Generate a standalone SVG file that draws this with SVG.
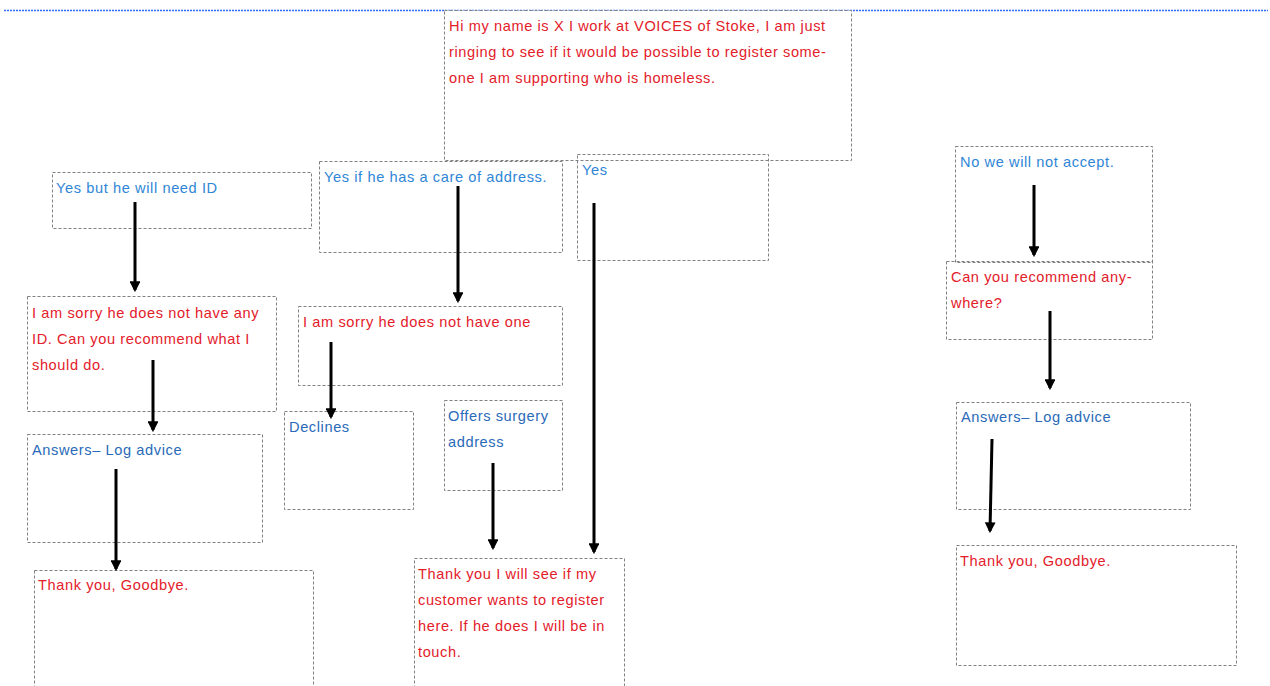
<svg xmlns="http://www.w3.org/2000/svg" width="1270" height="686" viewBox="0 0 1270 686">
<defs>
<style>
.box{fill:none;stroke:#808080;stroke-width:1;stroke-dasharray:3 2}
.t{font-family:"Liberation Sans",Arial,sans-serif;font-size:14.6px;letter-spacing:0.6px}
.r{fill:#e3202a}
.b{fill:#2f86d6}
.d{fill:#2a6ab8}
.c{stroke:#000;stroke-width:3;fill:none;marker-end:url(#ah)}
</style>
<marker id="ah" viewBox="0 0 10 10" refX="8" refY="5" markerWidth="3.6" markerHeight="3.6" orient="auto" markerUnits="strokeWidth">
<path d="M0,0 L10,5 L0,10 z" fill="#000"/>
</marker>
</defs>
<rect width="1270" height="686" fill="#fff"/>
<line x1="4" y1="10.5" x2="1268" y2="10.5" stroke="#2f6cff" stroke-width="1.5" stroke-dasharray="2 1"/>

<g id="n-intro"><rect x="444.5" y="10.5" width="407" height="150" fill="#fff"/><rect class="box" x="444.5" y="10.5" width="407" height="150"/>
<text class="t r" x="449" y="31">Hi my name is X I work at VOICES of Stoke, I am just</text>
<text class="t r" x="449" y="57">ringing to see if it would be possible to register some-</text>
<text class="t r" x="449" y="83">one I am supporting who is homeless.</text></g>

<g id="n-yes-id"><rect class="box" x="52.5" y="172.5" width="259" height="56"/>
<text class="t b" x="56" y="193">Yes but he will need ID</text></g>

<g id="n-sorry-id"><rect class="box" x="27.5" y="296.5" width="249" height="115"/>
<text class="t r" x="32" y="318">I am sorry he does not have any</text>
<text class="t r" x="32" y="344">ID. Can you recommend what I</text>
<text class="t r" x="32" y="370">should do.</text></g>

<g id="n-answers-left"><rect class="box" x="27.5" y="434.5" width="235" height="108"/>
<text class="t d" x="32" y="455">Answers– Log advice</text></g>

<g id="n-bye-left"><rect class="box" x="34.5" y="570.5" width="279" height="130"/>
<text class="t r" x="38" y="590">Thank you, Goodbye.</text></g>

<g id="n-yes-care"><rect class="box" x="319.5" y="161.5" width="243" height="91"/>
<text class="t b" x="324" y="182">Yes if he has a care of address.</text></g>

<g id="n-sorry-one"><rect class="box" x="298.5" y="306.5" width="264" height="79"/>
<text class="t r" x="303" y="327">I am sorry he does not have one</text></g>

<g id="n-declines"><rect class="box" x="284.5" y="411.5" width="129" height="98"/>
<text class="t d" x="289" y="432">Declines</text></g>

<g id="n-offers"><rect class="box" x="444.5" y="400.5" width="118" height="90"/>
<text class="t d" x="448" y="421">Offers  surgery</text>
<text class="t d" x="448" y="447">address</text></g>

<g id="n-yes"><rect class="box" x="577.5" y="154.5" width="191" height="106"/>
<text class="t b" x="582" y="175">Yes</text></g>

<g id="n-thanks-see"><rect class="box" x="414.5" y="558.5" width="210" height="140"/>
<text class="t r" x="418" y="579">Thank you I will see if my</text>
<text class="t r" x="418" y="605">customer wants to register</text>
<text class="t r" x="418" y="631">here. If he does I will be in</text>
<text class="t r" x="418" y="657">touch.</text></g>

<g id="n-no"><rect class="box" x="955.5" y="146.5" width="197" height="116"/>
<text class="t b" x="960" y="167">No we will not accept.</text></g>

<g id="n-recommend"><rect class="box" x="946.5" y="261.5" width="206" height="78"/>
<text class="t r" x="951" y="282">Can you recommend any-</text>
<text class="t r" x="951" y="308">where?</text></g>

<g id="n-answers-right"><rect class="box" x="956.5" y="402.5" width="234" height="107"/>
<text class="t d" x="961" y="422">Answers– Log advice</text></g>

<g id="n-bye-right"><rect class="box" x="956.5" y="545.5" width="280" height="120"/>
<text class="t r" x="960" y="566">Thank you, Goodbye.</text></g>

<g id="connectors">
<line class="c" x1="135" y1="202" x2="135" y2="290"/>
<line class="c" x1="153" y1="360" x2="153" y2="430"/>
<line class="c" x1="116" y1="469" x2="116" y2="569"/>
<line class="c" x1="458" y1="186" x2="458" y2="301"/>
<line class="c" x1="331" y1="342" x2="331" y2="417"/>
<line class="c" x1="594" y1="203" x2="594" y2="552"/>
<line class="c" x1="493" y1="463" x2="493" y2="548"/>
<line class="c" x1="1034" y1="185" x2="1034" y2="255"/>
<line class="c" x1="1050" y1="311" x2="1050" y2="388"/>
<line class="c" x1="992" y1="439" x2="990" y2="531"/>
</g>
</svg>
